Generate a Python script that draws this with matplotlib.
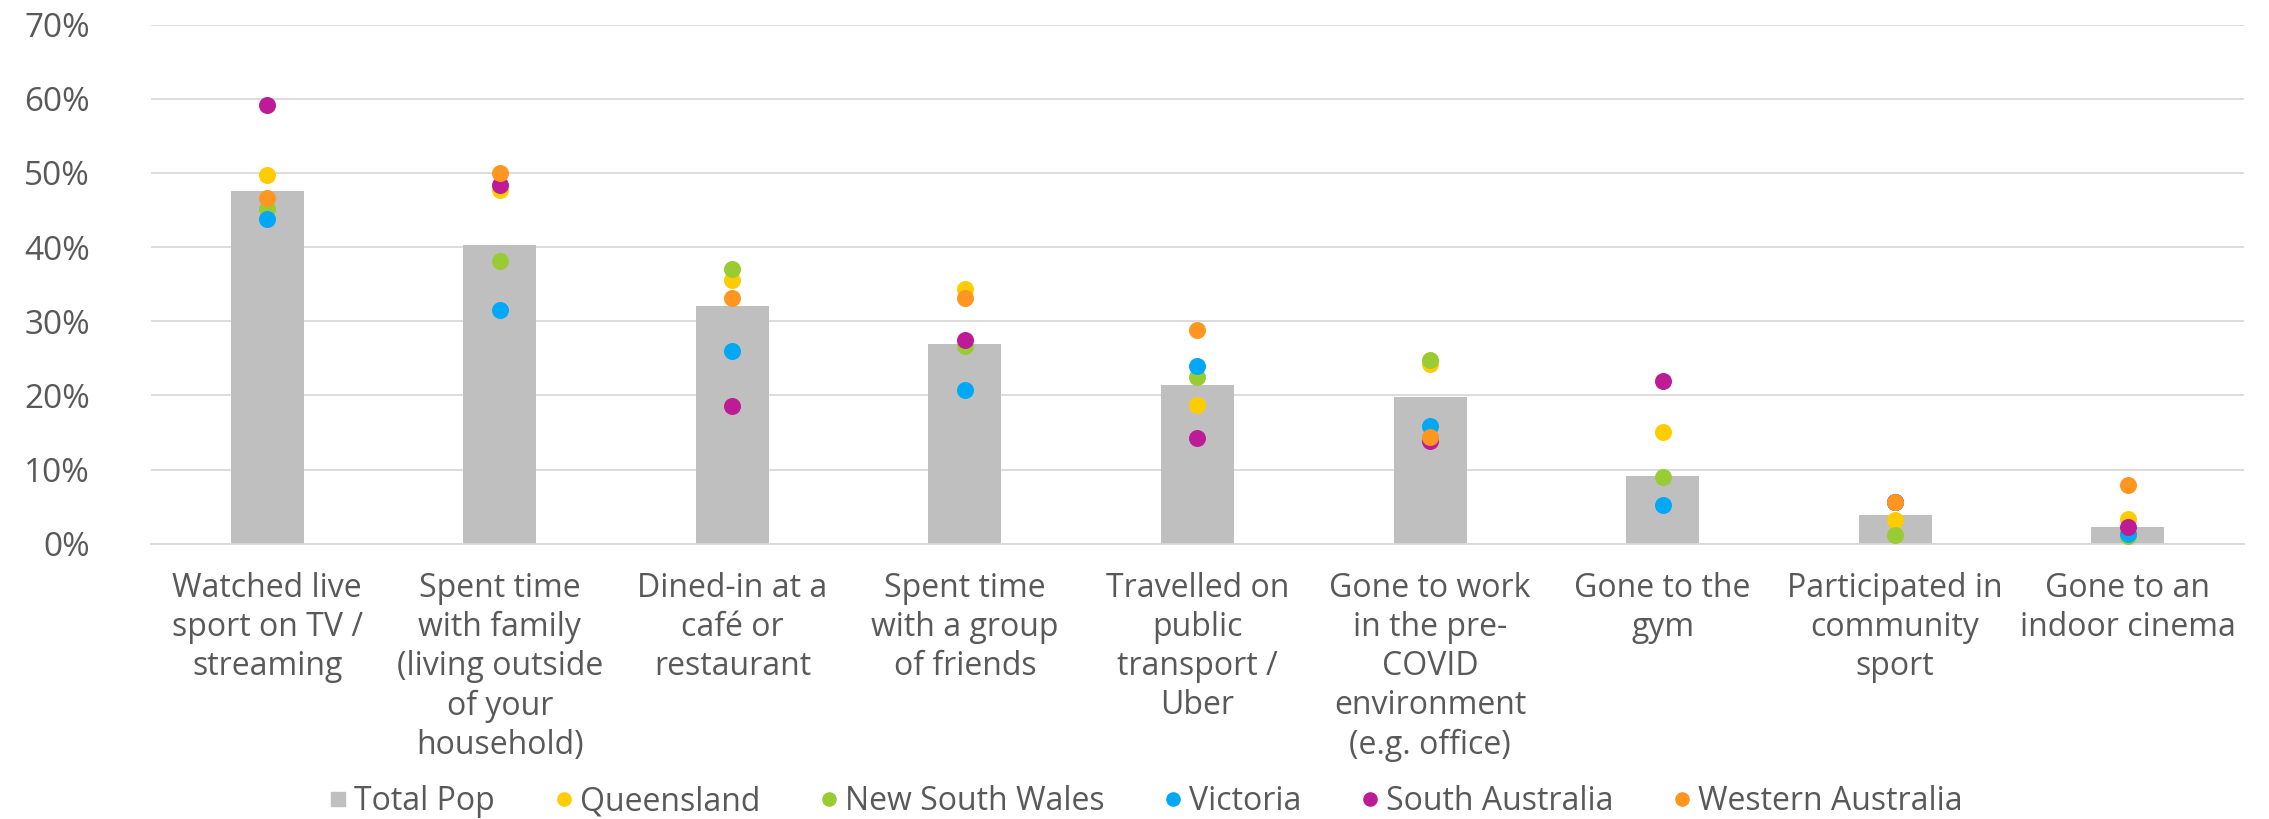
#IMPORT LIBRARIES
import numpy as np
import matplotlib
matplotlib.use("Agg")
import matplotlib.pyplot as plt
from matplotlib.lines import Line2D

#DATA (PERCENT)
categories = [
    "Watched live\nsport on TV /\nstreaming",
    "Spent time\nwith family\n(living outside\nof your\nhousehold)",
    "Dined-in at a\ncafé or\nrestaurant",
    "Spent time\nwith a group\nof friends",
    "Travelled on\npublic\ntransport /\nUber",
    "Gone to work\nin the pre-\nCOVID\nenvironment\n(e.g. office)",
    "Gone to the\ngym",
    "Participated in\ncommunity\nsport",
    "Gone to an\nindoor cinema",
]
total_pop = [47.6, 40.3, 32.0, 26.9, 21.4, 19.8, 9.2, 3.9, 2.3]
queensland = [49.7, 47.7, 35.5, 34.4, 18.7, 24.2, 15.1, 3.2, 3.4]
new_south_wales = [45.2, 38.1, 37.1, 26.7, 22.5, 24.8, 9.0, 1.2, 1.1]
victoria = [43.8, 31.5, 26.0, 20.8, 24.0, 15.9, 5.2, 5.6, 1.3]
south_australia = [59.2, 48.4, 18.6, 27.5, 14.2, 13.8, 21.9, 5.7, 2.2]
western_australia = [46.6, 50.0, 33.1, 33.2, 28.8, 14.4, np.nan, 5.7, 7.9]

series = [
    ("Queensland", queensland, "#FFCC00"),
    ("New South Wales", new_south_wales, "#99CC33"),
    ("Victoria", victoria, "#00A8F5"),
    ("South Australia", south_australia, "#BE1B96"),
    ("Western Australia", western_australia, "#FF9620"),
]

TXT = "#595959"
GRID = "#D9D9D9"
BAR = "#BFBFBF"
plt.rcParams["font.family"] = ["Open Sans", "DejaVu Sans"]

#FIGURE LAYOUT
fig = plt.figure(figsize=(22.69, 8.19), dpi=100)
ax = fig.add_axes([0.0665, 0.336, 0.9225, 0.634])

x = np.arange(len(categories))
ax.bar(x, np.array(total_pop) / 100, width=0.314, color=BAR, zorder=2)
for name, vals, col in series:
    ax.scatter(x, np.array(vals) / 100, s=150, color=col, zorder=3, linewidths=0)

#AXES STYLE
ax.set_xlim(-0.5, len(categories) - 0.5)
ax.set_ylim(0, 0.70)
ax.set_yticks(np.arange(0, 0.71, 0.10))
ax.set_yticklabels([f"{int(round(v * 100))}%" for v in np.arange(0, 0.71, 0.10)])
ax.yaxis.grid(True, color=GRID, lw=1.3, zorder=0)
ax.set_axisbelow(True)
for sp in ["top", "right", "left"]:
    ax.spines[sp].set_visible(False)
ax.spines["bottom"].set_color(GRID)
ax.spines["bottom"].set_linewidth(1.3)
ax.tick_params(axis="y", length=0, labelsize=24, labelcolor=TXT, pad=44)
ax.set_xticks(x)
ax.set_xticklabels(categories, fontsize=23, color=TXT, linespacing=1.25, va="top")
ax.tick_params(axis="x", length=0, pad=20)

#LEGEND
handles = [Line2D([], [], marker="s", ls="none", color=BAR, markersize=9.5, label="Total Pop")]
for name, vals, col in series:
    handles.append(Line2D([], [], marker="o", ls="none", color=col, markersize=9.5, label=name))
fig.legend(handles=handles, loc="center", bbox_to_anchor=(0.505, 0.021), ncol=6,
           frameon=False, fontsize=23, labelcolor=TXT, handletextpad=0.2,
           columnspacing=1.85, handlelength=0.6, borderpad=0.2)

fig.savefig("out.png", dpi=100)
